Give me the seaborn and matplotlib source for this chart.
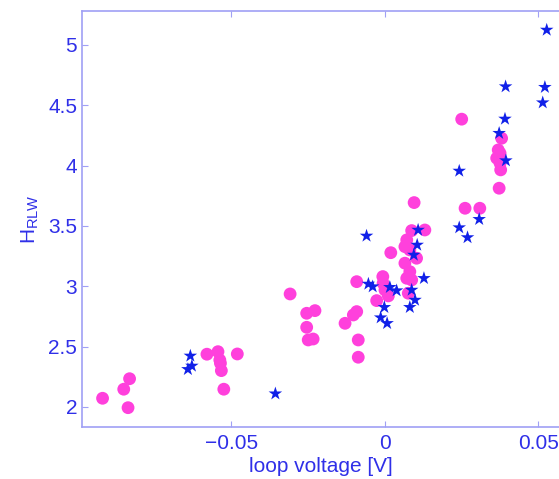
import matplotlib
matplotlib.use("Agg")
import matplotlib.pyplot as plt
import seaborn as sns
import pandas as pd

circle_x = [-0.0920, -0.0851, -0.0832, -0.0837, -0.0580, -0.0544, -0.0538, -0.0536, -0.0533, -0.0525,
            -0.0481, -0.0309, -0.0255, -0.0228, -0.0255, -0.0250, -0.0234, -0.0130, -0.0103, -0.0092,
            -0.0087, -0.0087, -0.0027, -0.0007, -0.0006, 0.0000, 0.0011, 0.0019, 0.0087, 0.0130,
            0.0071, 0.0065, 0.0081, 0.0103, 0.0065, 0.0081, 0.0071, 0.0087, 0.0076, 0.0095,
            0.0250, 0.0380, 0.0369, 0.0375, 0.0364, 0.0375, 0.0377, 0.0372, 0.0261, 0.0309,
            -0.0092]
circle_y = [2.072, 2.147, 2.234, 1.994, 2.437, 2.458, 2.389, 2.362, 2.301, 2.147,
            2.439, 2.936, 2.776, 2.798, 2.660, 2.555, 2.563, 2.693, 2.762, 3.038,
            2.555, 2.412, 2.881, 3.080, 3.025, 2.969, 2.920, 3.278, 3.461, 3.466,
            3.384, 3.328, 3.301, 3.232, 3.191, 3.121, 3.066, 3.052, 2.942, 3.693,
            4.384, 4.226, 4.129, 4.102, 4.061, 4.019, 3.964, 3.812, 3.646, 3.646,
            2.790]

star_x = [-0.0634, -0.0642, -0.0629, -0.0357, -0.0060, -0.0054, -0.0040, 0.0016, 0.0038, -0.0002,
          -0.0014, 0.0007, 0.0087, 0.0098, 0.0081, 0.0108, 0.0105, 0.0094, 0.0127, 0.0242,
          0.0307, 0.0242, 0.0269, 0.0372, 0.0394, 0.0391, 0.0393, 0.0521, 0.0514, 0.0527]
star_y = [2.423, 2.312, 2.340, 2.110, 3.417, 3.019, 2.997, 2.992, 2.964, 2.826,
          2.740, 2.693, 2.969, 2.886, 2.826, 3.466, 3.342, 3.259, 3.066, 3.955,
          3.555, 3.486, 3.404, 4.268, 4.041, 4.386, 4.654, 4.649, 4.521, 5.123]

x_ticks = [-0.05, 0, 0.05]
x_tick_labels = ["\u22120.05", "0", "0.05"]
y_ticks = [2, 2.5, 3, 3.5, 4, 4.5, 5]
y_tick_labels = ["2", "2.5", "3", "3.5", "4", "4.5", "5"]

df = pd.DataFrame({
    "x": circle_x + star_x,
    "y": circle_y + star_y,
    "kind": ["circle"] * len(circle_x) + ["star"] * len(star_x),
})

sns.set_style("white")
plt.rcParams["font.family"] = ["Liberation Sans", "DejaVu Sans"]
plt.rcParams["mathtext.default"] = "regular"

axis_col = "#a0a0f5"
text_col = "#2f2fe8"

fig = plt.figure(figsize=(5.59, 4.79), dpi=100)
ax = fig.add_axes([82 / 559, 1 - 427 / 479, 1.0 - 82 / 559, (427 - 11) / 479])

sns.scatterplot(data=df[df.kind == "circle"], x="x", y="y", ax=ax, marker="o",
                color="#ff40dc", s=85, edgecolor="none", linewidth=0, zorder=2)
sns.scatterplot(data=df[df.kind == "star"], x="x", y="y", ax=ax, marker="*",
                color="#1020e8", s=105, edgecolor="none", linewidth=0, zorder=3)

ax.set_xlim(-0.0987, 0.0567)
ax.set_ylim(1.834, 5.28)
ax.set_xticks(x_ticks)
ax.set_xticklabels(x_tick_labels)
ax.set_yticks(y_ticks)
ax.set_yticklabels(y_tick_labels)
ax.tick_params(direction="in", length=4, width=0.8, colors=axis_col,
               labelcolor=text_col, labelsize=15, top=True, bottom=True, left=True)
ax.tick_params(axis="x", pad=5)
for side in ["left", "bottom", "top", "right"]:
    ax.spines[side].set_color(axis_col)
    ax.spines[side].set_linewidth(1.2)
ax.spines["right"].set_visible(False)

ax.set_xlabel("loop voltage [V]", color=text_col, fontsize=15, labelpad=3)
ax.set_ylabel(r"H$_{RLW}$", color=text_col, fontsize=15, labelpad=5)

fig.savefig("out.png", dpi=100)
